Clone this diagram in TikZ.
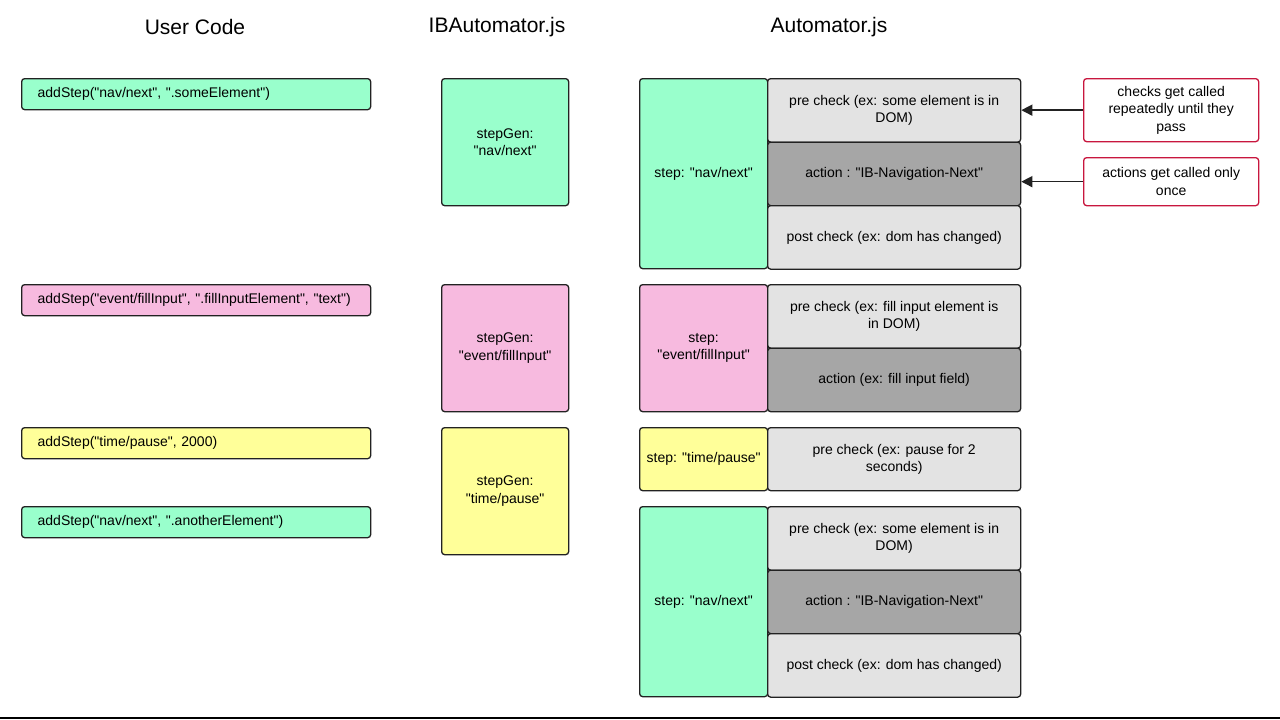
\documentclass[tikz,border=0pt]{standalone}
\usepackage{fontspec}
\newfontfamily\arialf{Liberation Sans}
\usetikzlibrary{arrows.meta}
\definecolor{cgreen}{HTML}{99FFCC}
\definecolor{cpink}{HTML}{F7BADF}
\definecolor{cyellow}{HTML}{FFFF99}
\definecolor{clight}{HTML}{E3E3E3}
\definecolor{cdark}{HTML}{A6A6A6}
\definecolor{cred}{HTML}{C8163E}
\definecolor{cline}{HTML}{222222}
\begin{document}
\begin{tikzpicture}[x=1pt,y=-1pt,
  base/.style={draw=cline, line width=1.3pt, rounded corners=3pt, inner sep=0pt,
    anchor=north west, font=\arialf\fontsize{14}{17.5}\selectfont, align=center},
  codebox/.style={base, minimum width=349pt, minimum height=31pt, inner xsep=16pt,
    text width=317pt, align=left},
  genbox/.style={base, minimum width=127pt, minimum height=127pt},
  stepbox/.style={base, minimum width=128pt},
  subbox/.style={base, minimum width=253pt, minimum height=63.5pt},
  notebox/.style={base, draw=cred, fill=white, minimum width=175pt},
  title/.style={font=\arialf\fontsize{21}{25}\selectfont, inner sep=0pt},
  arr/.style={-{Triangle[width=11pt,length=11pt]}, line width=1.4pt, draw=cline}
]
\useasboundingbox (0,0) rectangle (1280,720);
\fill[white] (0,0) rectangle (1280,720);

% titles
\node[title] (t1) at (195,27) {User Code};
\node[title] (t2) at (497,27) {IBAutomator.js};
\node[title] (t3) at (829,27) {Automator.js};

% user code
\node[codebox, fill=cgreen] (c1) at (21,78) {addStep("nav/next", ".someElement")};
\node[codebox, fill=cpink] (c2) at (21,284) {addStep("event/fillInput", ".fillInputElement", "text")};
\node[codebox, fill=cyellow] (c3) at (21,427) {addStep("time/pause", 2000)};
\node[codebox, fill=cgreen] (c4) at (21,506) {addStep("nav/next", ".anotherElement")};

% IBAutomator
\node[genbox, fill=cgreen] (g1) at (441,78) {stepGen:\\"nav/next"};
\node[genbox, fill=cpink] (g2) at (441,284) {stepGen:\\"event/fillInput"};
\node[genbox, fill=cyellow] (g3) at (441,427) {stepGen:\\"time/pause"};

% Automator group 1
\node[stepbox, fill=cgreen, minimum height=190pt] (s1) at (639,78) {step: "nav/next"};
\node[subbox, fill=clight] (p1) at (767,78) {pre check (ex: some element is in\\DOM)};
\node[subbox, fill=cdark] (a1) at (767,141.5) {action : "IB-Navigation-Next"};
\node[subbox, fill=clight] (q1) at (767,205) {post check (ex: dom has changed)};

% group 2
\node[stepbox, fill=cpink, minimum height=127pt] (s2) at (639,284) {step:\\"event/fillInput"};
\node[subbox, fill=clight] (p2) at (767,284) {pre check (ex: fill input element is\\in DOM)};
\node[subbox, fill=cdark] (a2) at (767,347.5) {action (ex: fill input field)};

% group 3
\node[stepbox, fill=cyellow, minimum height=63pt] (s3) at (639,427) {step: "time/pause"};
\node[subbox, fill=clight, minimum height=63pt] (p3) at (767,427) {pre check (ex: pause for 2\\seconds)};

% group 4
\node[stepbox, fill=cgreen, minimum height=190pt] (s4) at (639,506) {step: "nav/next"};
\node[subbox, fill=clight] (p4) at (767,506) {pre check (ex: some element is in\\DOM)};
\node[subbox, fill=cdark] (a4) at (767,569.5) {action : "IB-Navigation-Next"};
\node[subbox, fill=clight] (q4) at (767,633) {post check (ex: dom has changed)};

% notes
\node[notebox, minimum height=63pt] (n1) at (1083,78) {checks get called\\repeatedly until they\\pass};
\node[notebox, minimum height=48pt] (n2) at (1083,157) {actions get called only\\once};

\draw[arr] (n1.west) -- (n1.west -| p1.east);
\draw[arr] (n2.west) -- (n2.west -| a1.east);

% bottom rule
\draw[line width=2pt] (0,718) -- (1280,718);
\end{tikzpicture}
\end{document}
